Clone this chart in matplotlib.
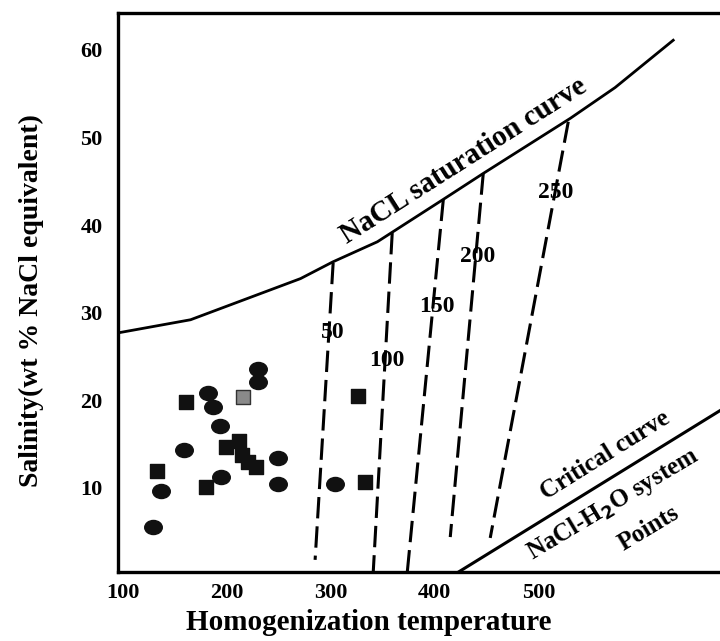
import numpy as np
import matplotlib
matplotlib.use('Agg')
import matplotlib.pyplot as plt
from matplotlib.path import Path

plt.rcParams['font.family'] = ['Liberation Serif', 'DejaVu Serif']
plt.rcParams['font.weight'] = 'bold'
plt.rcParams['mathtext.default'] = 'bf'

# NaCl saturation curve
sat_x = [95, 165, 271, 302, 345, 408, 447, 531, 574, 630]
sat_y = [27.7, 29.2, 33.9, 35.8, 38.1, 42.9, 45.9, 52.2, 55.7, 61.1]

# dashed isochores: top point on the curve, bottom end
iso_labels = ['50', '100', '150', '200', '250']
iso_top_x = [302.4, 359.3, 408.5, 447.0, 528.9]
iso_top_y = [35.7, 39.1, 42.9, 45.9, 51.8]
iso_bot_x = [285.0, 341.0, 373.8, 415.2, 453.7]
iso_bot_y = [1.8, 0.4, 0.4, 4.4, 4.3]
iso_lab_x = [302.4, 354.5, 402.7, 441.2, 516.4]
iso_lab_y = [27.8, 24.6, 30.7, 36.4, 43.7]

# critical curve
crit_x = [423, 676]
crit_y = [0.4, 18.9]

# fluid inclusion data
circ_x = [230.1, 230.1, 181.9, 186.8, 193.5, 158.8, 249.4, 194.5, 249.4, 136.6, 128.9, 304.4]
circ_y = [23.6, 22.1, 20.8, 19.2, 17.1, 14.3, 13.4, 11.3, 10.5, 9.7, 5.5, 10.5]
sq_x = [160.7, 199.3, 211.8, 214.7, 220.5, 228.2, 132.8, 180.0, 326.5, 333.3]
sq_y = [19.8, 14.7, 15.4, 13.8, 13.0, 12.4, 11.9, 10.1, 20.5, 10.7]
gray_x = [215.7]
gray_y = [20.4]

fig = plt.figure(figsize=(7.2, 6.41), dpi=100)
ax = fig.add_axes([0.164, 0.1076, 0.846, 0.872])

ax.plot(sat_x, sat_y, color='black', lw=2.0)
for i in range(len(iso_labels)):
    ax.plot([iso_top_x[i], iso_bot_x[i]], [iso_top_y[i], iso_bot_y[i]],
            color='black', lw=2.2, dashes=(7, 2.6))
    ax.text(iso_lab_x[i], iso_lab_y[i], iso_labels[i], fontsize=17,
            ha='center', va='center')
ax.plot(crit_x, crit_y, color='black', lw=2.2)

ellipse = Path.unit_circle()
ellipse = Path(ellipse.vertices * np.array([1.0, 0.8]), ellipse.codes)
ax.scatter(circ_x, circ_y, marker=ellipse, s=160, color='#111111', zorder=3)
ax.scatter(sq_x, sq_y, marker='s', s=115, color='#111111', zorder=3)
ax.scatter(gray_x, gray_y, marker='s', s=100, color='#8a8a8a',
           edgecolor='#333333', linewidth=1.0, zorder=3)

ax.text(427.7, 47.4, 'NaCL saturation curve', fontsize=21, rotation=32.5,
        ha='center', va='center', rotation_mode='anchor')
ax.text(564.6, 13.7, 'Critical curve', fontsize=18, rotation=32,
        ha='center', va='center', rotation_mode='anchor')
ax.text(572.3, 8.2, 'NaCl-H$_2$O system', fontsize=18, rotation=31,
        ha='center', va='center', rotation_mode='anchor')
ax.text(606, 5.4, 'Points', fontsize=18, rotation=31,
        ha='center', va='center', rotation_mode='anchor')

ax.set_xlim(95.2, 682)
ax.set_ylim(0.41, 64.2)
ax.set_xticks([100, 200, 300, 400, 500])
ax.set_yticks([10, 20, 30, 40, 50, 60])
ax.tick_params(length=0, labelsize=16, pad=8)
ax.tick_params(axis='y', pad=11)
for lab in ax.get_xticklabels() + ax.get_yticklabels():
    lab.set_fontweight('bold')
for s in ['left', 'top', 'bottom']:
    ax.spines[s].set_linewidth(2.4)
ax.spines['right'].set_visible(False)

ax.set_xlabel('Homogenization temperature', fontsize=21, fontweight='bold',
              labelpad=4)
ax.xaxis.label.set_x(0.412)
ax.set_ylabel('Salinity(wt % NaCl equivalent)', fontsize=20, fontweight='bold',
              labelpad=26)
ax.yaxis.label.set_y(0.485)

fig.savefig('out.png', dpi=100)
